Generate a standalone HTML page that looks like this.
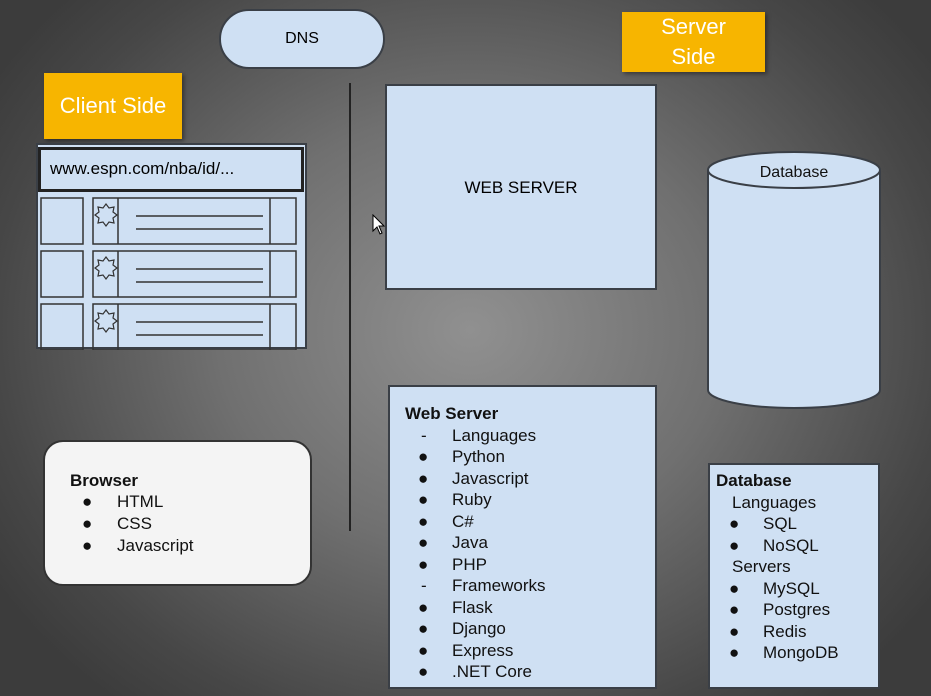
<!DOCTYPE html><html><head><style>
body{margin:0;width:931px;height:696px;overflow:hidden;position:relative;font-family:"Liberation Sans",sans-serif;
background:radial-gradient(ellipse 560px 480px at 470px 330px,#909090 0%,#707070 45%,#474747 85%,#3c3c3c 100%);}
.a{position:absolute;box-sizing:border-box}
.bx{background:#cfe0f3;border:2px solid #3a3f46}
.or{background:#f7b500;color:#fff;font-size:22px;text-align:center;box-shadow:2px 2px 4px rgba(0,0,0,.4)}
.t{position:absolute;font-size:17px;color:#111;white-space:nowrap}
.b{display:inline-block;width:47px;padding-left:13px;box-sizing:border-box}
.d{display:inline-block;width:47px;padding-left:16px;box-sizing:border-box}
</style></head><body>
<div class="a bx" style="left:219px;top:9px;width:166px;height:60px;border-radius:30px;font-size:16px;text-align:center;line-height:56px">DNS</div>
<div class="a or" style="left:622px;top:12px;width:143px;height:60px;line-height:30px">Server<br>Side</div>
<div class="a or" style="left:44px;top:73px;width:138px;height:66px;line-height:66px">Client Side</div>
<div class="a" style="left:349px;top:83px;width:2px;height:448px;background:#222"></div>
<div class="a bx" style="left:385px;top:84px;width:272px;height:206px;font-size:17px;text-align:center;padding-top:92px">WEB SERVER</div>
<svg class="a" style="left:372px;top:214px" width="14" height="22"><path d="M1 1L1 17L5 13L8 20L10 19L7 12L12 12Z" fill="#fff" stroke="#000"/></svg>
<svg class="a" style="left:705px;top:150px" width="180" height="262">
<path d="M3 20 L3 240 A86 18 0 0 0 175 240 L175 20" fill="#cfe0f3" stroke="#3a3f46" stroke-width="2"/>
<ellipse cx="89" cy="20" rx="86" ry="18" fill="#cfe0f3" stroke="#3a3f46" stroke-width="2"/>
<text x="89" y="27" font-size="16" text-anchor="middle" font-family="Liberation Sans" fill="#111">Database</text></svg>
<div class="a bx" style="left:36px;top:143px;width:271px;height:206px"></div>
<div class="a" style="left:38px;top:147px;width:266px;height:45px;border:3px solid #222;background:#cfe0f3;font-size:17px;padding:9px 0 0 9px">www.espn.com/nba/id/...</div>
<svg class="a" style="left:36px;top:190px" width="271" height="160" fill="none" stroke="#333" stroke-width="1.5">
<g id="r"><rect x="5" y="8" width="42" height="46"/><rect x="57" y="8" width="203" height="46"/><line x1="82" y1="8" x2="82" y2="54"/><line x1="234" y1="8" x2="234" y2="54"/><line x1="100" y1="26" x2="227" y2="26"/><line x1="100" y1="39" x2="227" y2="39"/><path d="M70 14l3 4 5-1-1 5 4 3-4 3 1 5-5-1-3 4-3-4-5 1 1-5-4-3 4-3-1-5 5 1z" stroke-width="1.2"/></g>
<use href="#r" y="53"/><use href="#r" y="106"/></svg>
<div class="a" style="left:43px;top:440px;width:269px;height:146px;background:#f4f4f4;border:2px solid #333;border-radius:20px"></div>
<div class="t" style="left:70px;top:471px;font-weight:bold">Browser</div>
<div class="t" style="left:82px;top:492px"><span style="display:inline-block;width:35px">●</span>HTML</div>
<div class="t" style="left:82px;top:514px"><span style="display:inline-block;width:35px">●</span>CSS</div>
<div class="t" style="left:82px;top:536px"><span style="display:inline-block;width:35px">●</span>Javascript</div>
<div class="a bx" style="left:388px;top:385px;width:269px;height:304px"></div>
<div class="a" style="left:405px;top:403px;font-size:17px;line-height:21.5px;color:#111;white-space:nowrap">
<div><b>Web Server</b></div>
<div><span class="d">-</span>Languages</div>
<div><span class="b">●</span>Python</div>
<div><span class="b">●</span>Javascript</div>
<div><span class="b">●</span>Ruby</div>
<div><span class="b">●</span>C#</div>
<div><span class="b">●</span>Java</div>
<div><span class="b">●</span>PHP</div>
<div><span class="d">-</span>Frameworks</div>
<div><span class="b">●</span>Flask</div>
<div><span class="b">●</span>Django</div>
<div><span class="b">●</span>Express</div>
<div><span class="b">●</span>.NET Core</div>
</div>
<div class="a bx" style="left:708px;top:463px;width:172px;height:226px"></div>
<div class="a" style="left:716px;top:470px;font-size:17px;line-height:21.5px;color:#111;white-space:nowrap">
<div><b>Database</b></div>
<div style="padding-left:16px">Languages</div>
<div><span class="b">●</span>SQL</div>
<div><span class="b">●</span>NoSQL</div>
<div style="padding-left:16px">Servers</div>
<div><span class="b">●</span>MySQL</div>
<div><span class="b">●</span>Postgres</div>
<div><span class="b">●</span>Redis</div>
<div><span class="b">●</span>MongoDB</div>
</div>
</body></html>
